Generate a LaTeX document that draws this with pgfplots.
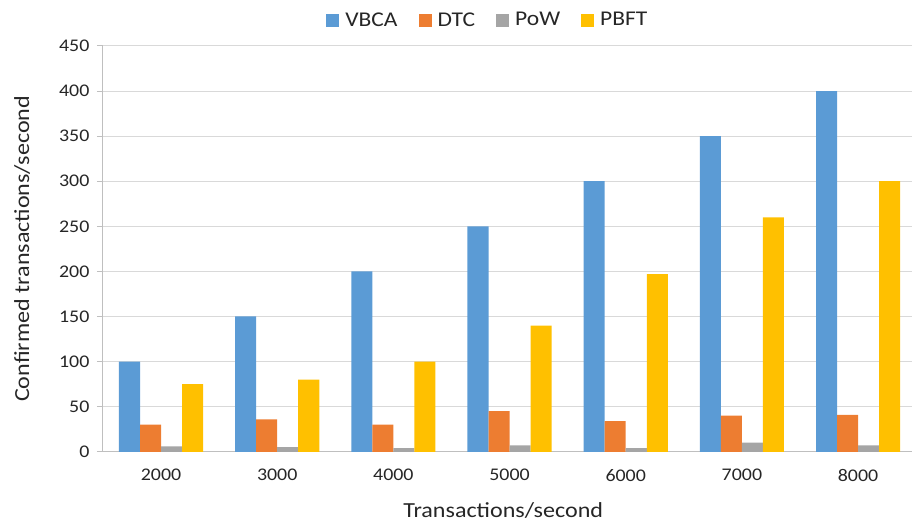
\documentclass[border=0pt]{standalone}
\usepackage{pgfplots}
\pgfplotsset{compat=1.18}
\usepackage{fontspec}
\setmainfont[FakeStretch=1.12]{Carlito}
\definecolor{cA}{HTML}{5B9BD5}
\definecolor{cB}{HTML}{ED7D31}
\definecolor{cC}{HTML}{A5A5A5}
\definecolor{cD}{HTML}{FFC000}
\definecolor{gridc}{HTML}{D9D9D9}
\definecolor{axc}{HTML}{BFBFBF}
\begin{document}
\begin{tikzpicture}[x=1pt,y=1pt]
\path (0,0) rectangle (912,-521);
\begin{axis}[
  at={(103pt,-452pt)}, anchor=south west,
  scale only axis, width=809pt, height=406pt,
  ybar=0pt, bar width=0.181,
  xmin=-0.5, xmax=6.46, ymin=0, ymax=450,
  ytick={0,50,...,450},
  xtick={0,...,6},
  xticklabels={2000,3000,4000,5000,6000,7000,8000},
  axis x line*=bottom, axis y line*=left,
  axis line style={axc,-, line width=1pt},
  ymajorgrids, grid style={gridc, line width=1pt},
  major tick length=6pt,
  ytick style={axc, line width=1pt},
  tick align=outside,
  xtick style={draw=none},
  /pgf/number format/assume math mode=true,
  ticklabel style={font=\fontsize{17.8}{20}\selectfont, text=black!85},
  yticklabel style={xshift=-4pt},
  xticklabel style={yshift=-8pt},
  xlabel={Transactions/second},
  ylabel={Confirmed transactions/second},
  label style={font=\fontsize{21.5}{24}\selectfont, text=black!85},
  xlabel style={at={(axis description cs:0.495,-0.145)}, anchor=center},
  ylabel style={at={(axis description cs:-0.1,0.5)}, anchor=center, rotate=0},
  legend style={at={(axis description cs:0.476,1.064)}, anchor=center, draw=none, fill=none,
    legend columns=-1, font=\fontsize{21}{24}\selectfont, text=black!85,
    /tikz/every even column/.append style={column sep=19pt},
    /tikz/every odd column/.append style={column sep=4pt}},
  legend image code/.code={\fill[#1] (0pt,-6.5pt) rectangle (13pt,6.5pt);},
]
\addplot[fill=cA, draw=none] coordinates {(0,100) (1,150) (2,200) (3,250) (4,300) (5,350) (6,400)};
\addplot[fill=cB, draw=none] coordinates {(0,30) (1,36) (2,30) (3,45) (4,34) (5,40) (6,41)};
\addplot[fill=cC, draw=none] coordinates {(0,6) (1,5) (2,4) (3,7) (4,4) (5,10) (6,7)};
\addplot[fill=cD, draw=none] coordinates {(0,75) (1,80) (2,100) (3,140) (4,197) (5,260) (6,300)};
\legend{VBCA,DTC,PoW,PBFT}
\end{axis}
\end{tikzpicture}
\end{document}
